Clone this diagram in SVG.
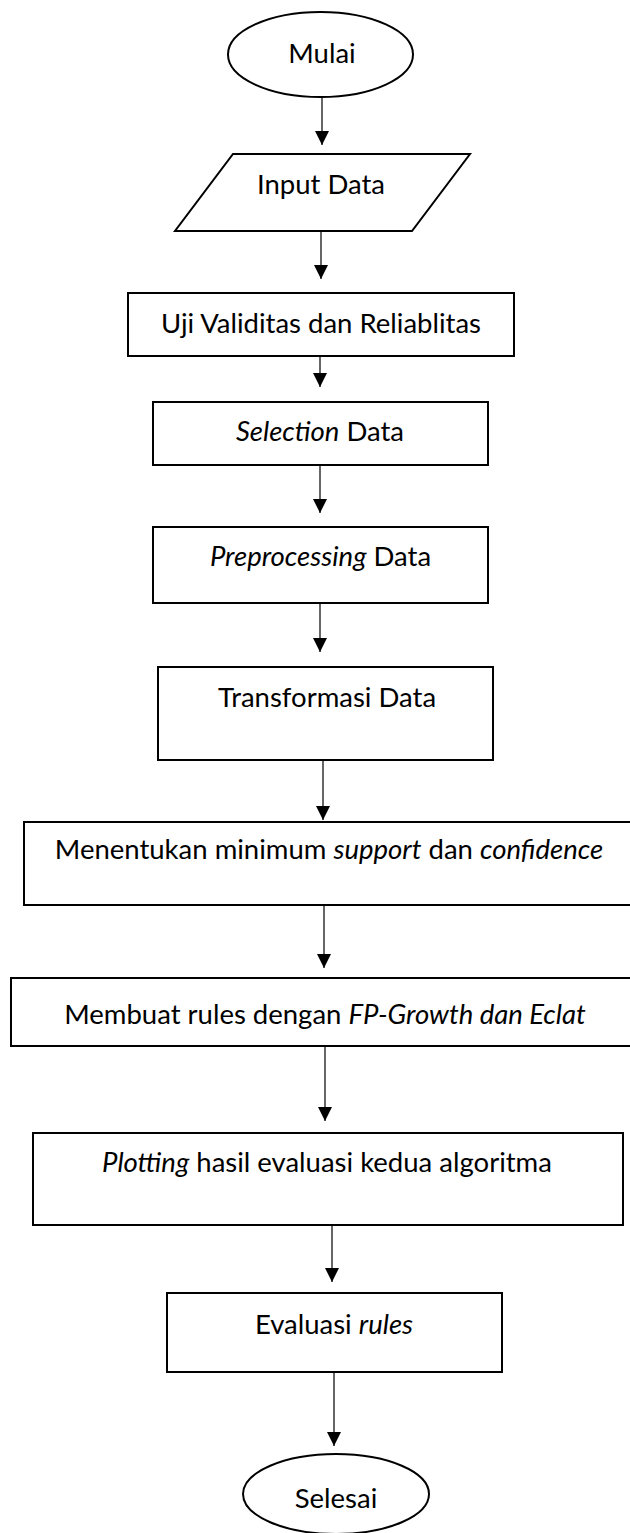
<svg xmlns="http://www.w3.org/2000/svg" width="630" height="1533" viewBox="0 0 630 1533">
  <style>
    .shape { fill: #ffffff; stroke: #000000; stroke-width: 2; }
    .label { font-family: Lato, "Open Sans", "Liberation Sans", sans-serif; font-size: 27.5px; fill: #000000; text-anchor: middle; }
    .it { font-style: italic; }
    .flow { stroke: #000000; stroke-width: 1.2; fill: none; marker-end: url(#head); }
  </style>
  <defs>
    <marker id="head" markerUnits="userSpaceOnUse" markerWidth="15" markerHeight="15" refX="14" refY="7" orient="auto">
      <path d="M0,0 L14,7 L0,14 z" fill="#000000"/>
    </marker>
  </defs>

  <rect x="0" y="0" width="630" height="1533" fill="#ffffff"/>

  <!-- connectors -->
  <g id="connectors">
    <line class="flow" x1="322" y1="97" x2="322" y2="145"/>
    <line class="flow" x1="321" y1="231" x2="321" y2="279"/>
    <line class="flow" x1="320" y1="356" x2="320" y2="387"/>
    <line class="flow" x1="320" y1="465" x2="320" y2="513"/>
    <line class="flow" x1="320" y1="603" x2="320" y2="652"/>
    <line class="flow" x1="323" y1="760" x2="323" y2="820"/>
    <line class="flow" x1="324" y1="905" x2="324" y2="968"/>
    <line class="flow" x1="325" y1="1046" x2="325" y2="1121"/>
    <line class="flow" x1="332" y1="1225" x2="332" y2="1282"/>
    <line class="flow" x1="334" y1="1372" x2="334" y2="1446"/>
  </g>

  <!-- start -->
  <g id="mulai">
    <ellipse class="shape" cx="320.5" cy="54.5" rx="92.5" ry="42.5"/>
    <text class="label" x="322" y="63">Mulai</text>
  </g>

  <!-- input -->
  <g id="input-data">
    <polygon class="shape" points="233,154 470,154 412,231 175,231"/>
    <text class="label" x="321" y="194">Input Data</text>
  </g>

  <g id="uji-validitas">
    <rect class="shape" x="128" y="293" width="386" height="63"/>
    <text class="label" x="321" y="333">Uji Validitas dan Reliablitas</text>
  </g>

  <g id="selection">
    <rect class="shape" x="153" y="402" width="335" height="63"/>
    <text class="label" x="320" y="441"><tspan class="it">Selection</tspan> Data</text>
  </g>

  <g id="preprocessing">
    <rect class="shape" x="153" y="527" width="335" height="76"/>
    <text class="label" x="320.5" y="566"><tspan class="it">Preprocessing</tspan> Data</text>
  </g>

  <g id="transformasi">
    <rect class="shape" x="158" y="667" width="335" height="93"/>
    <text class="label" x="327" y="707">Transformasi Data</text>
  </g>

  <g id="minimum-support">
    <rect class="shape" x="24" y="822" width="620" height="83"/>
    <text class="label" x="329" y="859">Menentukan minimum <tspan class="it">support</tspan> dan <tspan class="it">confidence</tspan></text>
  </g>

  <g id="membuat-rules">
    <rect class="shape" x="11" y="978" width="640" height="68"/>
    <text class="label" x="325" y="1024">Membuat rules dengan <tspan class="it">FP-Growth dan Eclat</tspan></text>
  </g>

  <g id="plotting">
    <rect class="shape" x="33" y="1133" width="590" height="92"/>
    <text class="label" x="327" y="1172"><tspan class="it">Plotting</tspan> hasil evaluasi kedua algoritma</text>
  </g>

  <g id="evaluasi">
    <rect class="shape" x="167" y="1293" width="335" height="79"/>
    <text class="label" x="334" y="1334">Evaluasi <tspan class="it">rules</tspan></text>
  </g>

  <!-- end -->
  <g id="selesai">
    <ellipse class="shape" cx="336" cy="1494" rx="93" ry="40"/>
    <text class="label" x="336" y="1508">Selesai</text>
  </g>
</svg>
